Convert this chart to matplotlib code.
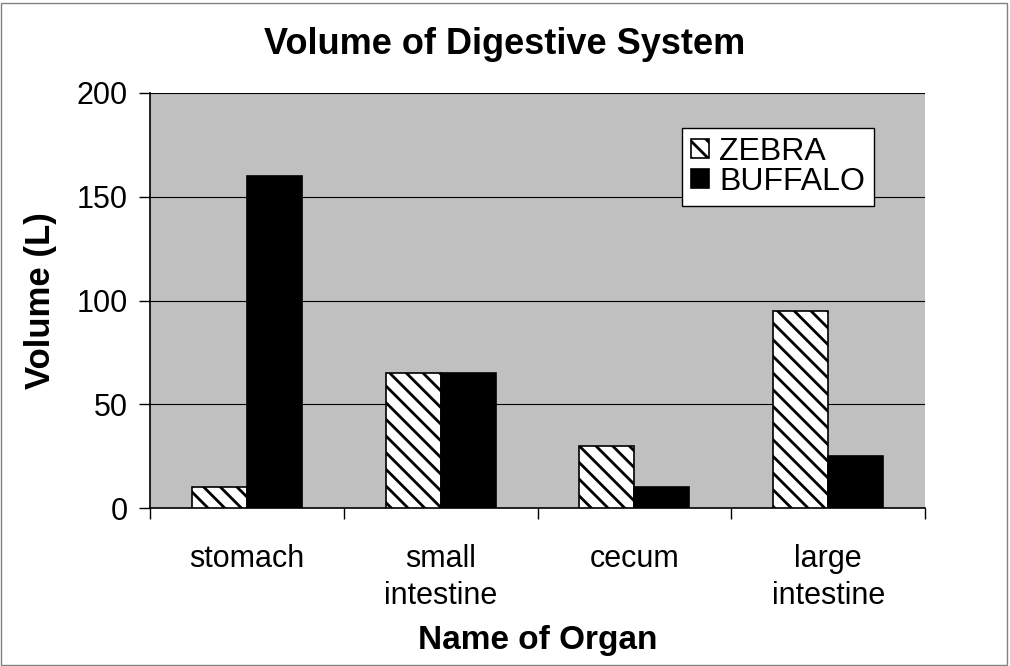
import matplotlib
matplotlib.use("Agg")
import matplotlib.pyplot as plt
import numpy as np
from matplotlib.patches import Rectangle

categories = ["stomach", "small\nintestine", "cecum", "large\nintestine"]
zebra = [10, 65, 30, 95]
buffalo = [160, 65, 10, 25]
yticks = [0, 50, 100, 150, 200]

plt.rcParams['font.family'] = ['Liberation Sans', 'DejaVu Sans']
plt.rcParams['hatch.linewidth'] = 2.0

fig = plt.figure(figsize=(10.10, 6.66), dpi=100)
ax = fig.add_axes([150/1010, 1 - 508/666, 775/1010, 415/666])
ax.set_facecolor('#C0C0C0')

x = np.arange(len(categories))
w = 0.284
ax.bar(x - w/2, zebra, w, color='white', edgecolor='black', hatch='\\\\', linewidth=1.2, label='ZEBRA', zorder=3)
ax.bar(x + w/2, buffalo, w, color='black', edgecolor='black', linewidth=1.2, label='BUFFALO', zorder=3)

ax.set_xlim(-0.5, len(categories) - 0.5)
ax.set_ylim(0, 200)
ax.set_yticks(yticks)
ax.set_yticklabels([str(v) for v in yticks], fontsize=22)
for v in yticks[1:]:
    ax.axhline(v, color='black', linewidth=0.8, zorder=1)

ax.set_xticks(np.arange(len(categories) + 1) - 0.5)
ax.set_xticklabels([])
ax.set_xticks(x, minor=True)
ax.set_xticklabels(categories, minor=True, fontsize=22, linespacing=1.3)
ax.tick_params(axis='x', which='minor', length=0, pad=26)
ax.tick_params(axis='x', which='major', length=8, direction='out', width=1)
ax.tick_params(axis='y', length=8, direction='out', width=1, pad=8)

for s in ['top', 'right']:
    ax.spines[s].set_visible(False)
ax.spines['left'].set_linewidth(1.2)
ax.spines['bottom'].set_linewidth(1.2)

ax.set_ylabel('Volume (L)', fontsize=25, fontweight='bold', labelpad=14)
ax.set_xlabel('Name of Organ', fontsize=24, fontweight='bold', labelpad=10)
fig.text(0.5, 1 - 45/666, 'Volume of Digestive System', ha='center', va='center',
         fontsize=26, fontweight='bold')

leg = ax.legend(loc='upper left', bbox_to_anchor=((682-150)/775, (508-128)/415),
                fontsize=23, frameon=True, fancybox=False, edgecolor='black',
                handlelength=0.55, handleheight=0.55, handletextpad=0.33,
                borderpad=0.28, labelspacing=0.0, borderaxespad=0)
leg.get_frame().set_linewidth(1.0)
leg.get_frame().set_alpha(1)

fig.patches.append(Rectangle((1/1010, 1/666), 1006/1010, 662/666, transform=fig.transFigure,
                             fill=False, edgecolor='#808080', linewidth=1))

fig.savefig('out.png', dpi=100)
